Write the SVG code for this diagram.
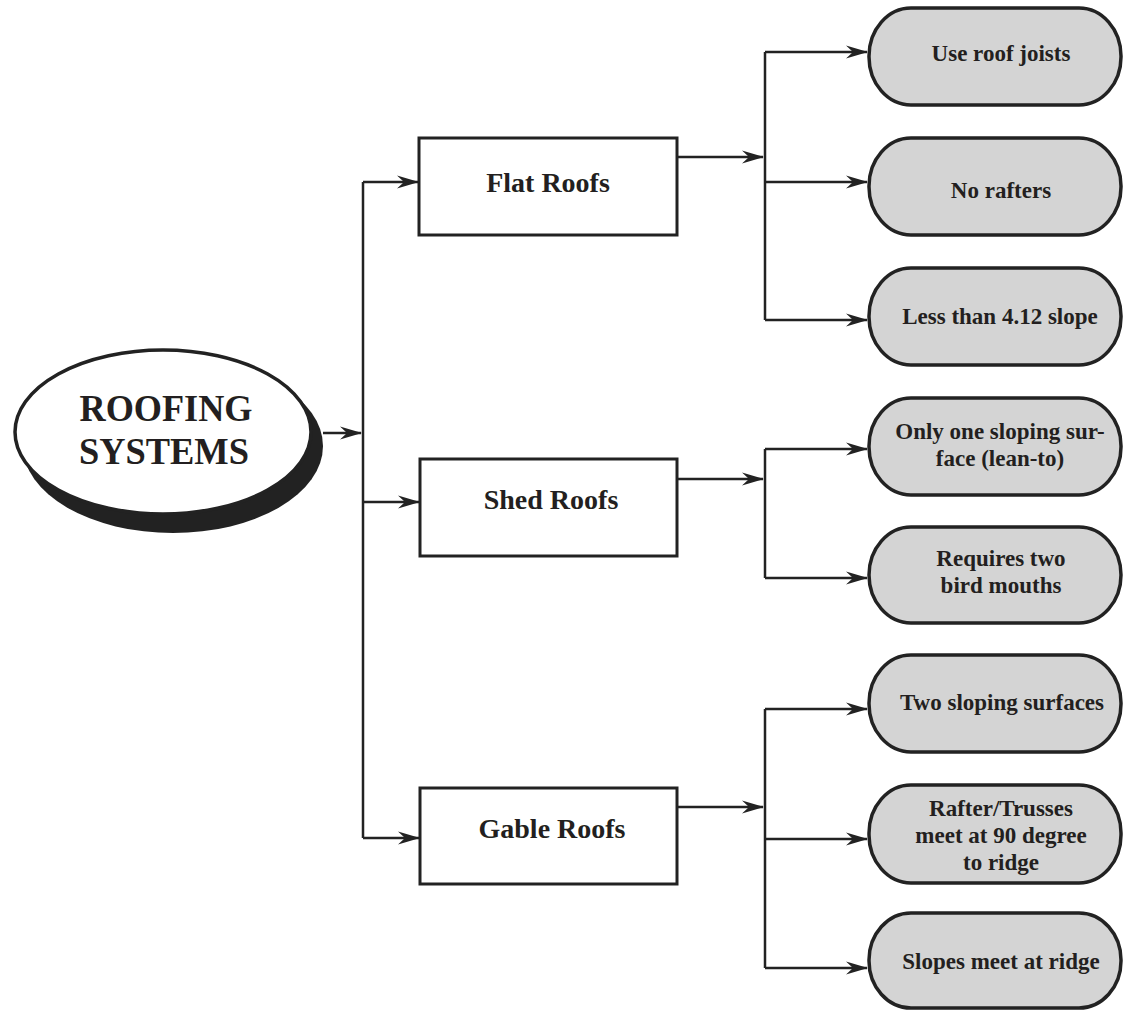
<svg xmlns="http://www.w3.org/2000/svg" width="1123" height="1011" viewBox="0 0 1123 1011">
<style>
  .ln{fill:none;stroke:#222;stroke-width:2.5}
  .box{fill:#fff;stroke:#222;stroke-width:3}
  .pill{fill:#d4d4d4;stroke:#222;stroke-width:3.5}
  .t{font-family:"Liberation Serif","Times New Roman",serif;font-weight:bold;fill:#231f20;text-anchor:middle}
  .bt{font-size:28px}
  .pt{font-size:23px}
  .et{font-size:38px}
</style>
<defs>
  <marker id="ah" markerUnits="userSpaceOnUse" viewBox="-24 -8 26 16" refX="0" refY="0" markerWidth="26" markerHeight="16" orient="auto">
    <path d="M1,0 L-21,-6.5 L-14,0 L-21,6.5 Z" fill="#222"/>
  </marker>
</defs>
<rect width="1123" height="1011" fill="#fff"/>

<g id="root">
  <ellipse cx="173" cy="446" rx="150" ry="87" fill="#222"/>
  <ellipse cx="163" cy="432" rx="148" ry="82" fill="#fff" stroke="#222" stroke-width="3.5"/>
  <text class="t et" x="166" y="421" textLength="173" lengthAdjust="spacingAndGlyphs">ROOFING</text>
  <text class="t et" x="164" y="464" textLength="170" lengthAdjust="spacingAndGlyphs">SYSTEMS</text>
</g>

<g id="connectors">
  <path class="ln" d="M323,433 H361" marker-end="url(#ah)"/>
  <path class="ln" d="M363,182 V838"/>
  <path class="ln" d="M363,182 H418" marker-end="url(#ah)"/>
  <path class="ln" d="M363,502 H419" marker-end="url(#ah)"/>
  <path class="ln" d="M363,838 H419" marker-end="url(#ah)"/>

  <path class="ln" d="M677,157 H763" marker-end="url(#ah)"/>
  <path class="ln" d="M765,52 V320"/>
  <path class="ln" d="M765,52 H867" marker-end="url(#ah)"/>
  <path class="ln" d="M765,182 H867" marker-end="url(#ah)"/>
  <path class="ln" d="M765,320 H867" marker-end="url(#ah)"/>

  <path class="ln" d="M677,479 H763" marker-end="url(#ah)"/>
  <path class="ln" d="M765,449 V578"/>
  <path class="ln" d="M765,449 H867" marker-end="url(#ah)"/>
  <path class="ln" d="M765,578 H867" marker-end="url(#ah)"/>

  <path class="ln" d="M677,807 H763" marker-end="url(#ah)"/>
  <path class="ln" d="M765,709 V968"/>
  <path class="ln" d="M765,709 H867" marker-end="url(#ah)"/>
  <path class="ln" d="M765,839 H867" marker-end="url(#ah)"/>
  <path class="ln" d="M765,968 H867" marker-end="url(#ah)"/>
</g>

<g id="flat">
  <rect class="box" x="419" y="138" width="258" height="97"/>
  <text class="t bt" x="548" y="192">Flat Roofs</text>
</g>
<g id="shed">
  <rect class="box" x="420" y="459" width="257" height="97"/>
  <text class="t bt" x="551" y="509">Shed Roofs</text>
</g>
<g id="gable">
  <rect class="box" x="420" y="788" width="257" height="96"/>
  <text class="t bt" x="552" y="838">Gable Roofs</text>
</g>

<g id="p1">
  <rect class="pill" x="869" y="8" width="252" height="97" rx="42" ry="48"/>
  <text class="t pt" x="1001" y="61">Use roof joists</text>
</g>
<g id="p2">
  <rect class="pill" x="869" y="138" width="252" height="97" rx="42" ry="48"/>
  <text class="t pt" x="1001" y="198">No rafters</text>
</g>
<g id="p3">
  <rect class="pill" x="869" y="268" width="252" height="97" rx="42" ry="48"/>
  <text class="t pt" x="1000" y="324">Less than 4.12 slope</text>
</g>
<g id="p4">
  <rect class="pill" x="869" y="398" width="252" height="97" rx="42" ry="48"/>
  <text class="t pt" x="1000" y="439">Only one sloping sur-</text>
  <text class="t pt" x="1000" y="466">face (lean-to)</text>
</g>
<g id="p5">
  <rect class="pill" x="869" y="527" width="252" height="96" rx="42" ry="48"/>
  <text class="t pt" x="1001" y="566">Requires two</text>
  <text class="t pt" x="1001" y="593">bird mouths</text>
</g>
<g id="p6">
  <rect class="pill" x="869" y="655" width="252" height="97" rx="42" ry="48"/>
  <text class="t pt" x="1002" y="710">Two sloping surfaces</text>
</g>
<g id="p7">
  <rect class="pill" x="869" y="785" width="252" height="98" rx="42" ry="48"/>
  <text class="t pt" x="1001" y="816">Rafter/Trusses</text>
  <text class="t pt" x="1001" y="843">meet at 90 degree</text>
  <text class="t pt" x="1001" y="870">to ridge</text>
</g>
<g id="p8">
  <rect class="pill" x="869" y="913" width="252" height="95" rx="42" ry="47"/>
  <text class="t pt" x="1001" y="969">Slopes meet at ridge</text>
</g>
</svg>
